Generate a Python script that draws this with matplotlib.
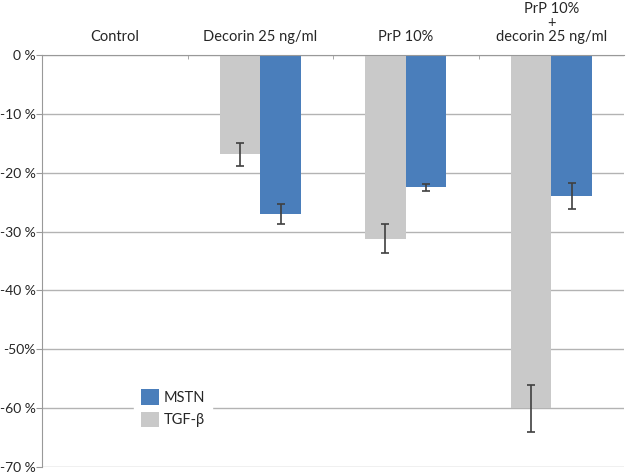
import matplotlib.pyplot as plt
import numpy as np

plt.rcParams['font.family'] = ['Lato', 'DejaVu Sans']

categories = ['Control', 'Decorin 25 ng/ml', 'PrP 10%', 'PrP 10%\n+\ndecorin 25 ng/ml']
tgf = [0, -16.9, -31.2, -60.0]
tgf_err = [0, 2.0, 2.5, 4.0]
mstn = [0, -27.0, -22.5, -23.9]
mstn_err = [0, 1.7, 0.6, 2.2]
yticks = [0, -10, -20, -30, -40, -50, -60, -70]
ylabels = ['0 %', '-10 %', '-20 %', '-30 %', '-40 %', '-50%', '-60 %', '-70 %']

BLUE = '#4a7ebb'
GRAY = '#c9c9c9'
W = 0.28
FS = 10.5

fig = plt.figure(figsize=(6.28, 4.76), dpi=100)
ax = fig.add_axes([42/628, 9/476, 582/628, 412/476])

x = np.arange(len(categories))
err_kw = dict(ecolor='#404040', elinewidth=1.2, capsize=3, capthick=1.2)
ax.bar(x - W/2, tgf, W, color=GRAY, label='TGF-β', zorder=2)
ax.bar(x + W/2, mstn, W, color=BLUE, label='MSTN', zorder=2)
ax.errorbar(x[1:] - W/2, tgf[1:], yerr=tgf_err[1:], fmt='none', zorder=3, **err_kw)
ax.errorbar(x[1:] + W/2, mstn[1:], yerr=mstn_err[1:], fmt='none', zorder=3, **err_kw)

ax.set_xlim(-0.5, 3.5)
ax.set_ylim(-70, 0)
ax.set_yticks(yticks)
ax.set_yticklabels(ylabels, fontsize=10, color='#262626')
ax.yaxis.grid(True, color='#b3b3b3', linewidth=1.0, zorder=0)
ax.set_axisbelow(True)

ax.xaxis.tick_top()
ax.set_xticks(x)
ax.set_xticklabels(categories, fontsize=FS, color='#262626', linespacing=1.0)
ax.tick_params(axis='x', which='major', length=0, pad=8)
ax.set_xticks(x[:-1] + 0.5, minor=True)
ax.tick_params(axis='x', which='minor', direction='in', length=3, color='#999999', top=True, bottom=False)
ax.tick_params(axis='y', length=4, color='#999999', pad=0.5)

for s in ['right', 'bottom']:
    ax.spines[s].set_visible(False)
ax.spines['left'].set_color('#999999')
ax.spines['top'].set_color('#999999')

h, l = ax.get_legend_handles_labels()
leg = ax.legend(h[::-1], l[::-1], loc='lower left', bbox_to_anchor=(0.158, 0.08),
                borderaxespad=0, fontsize=FS, handlelength=1.3, handleheight=1.3,
                handletextpad=0.3, labelspacing=0.45, borderpad=0.45,
                fancybox=False, framealpha=1, edgecolor='white')
for t in leg.get_texts():
    t.set_color('#262626')

fig.savefig('out.png', dpi=100)
